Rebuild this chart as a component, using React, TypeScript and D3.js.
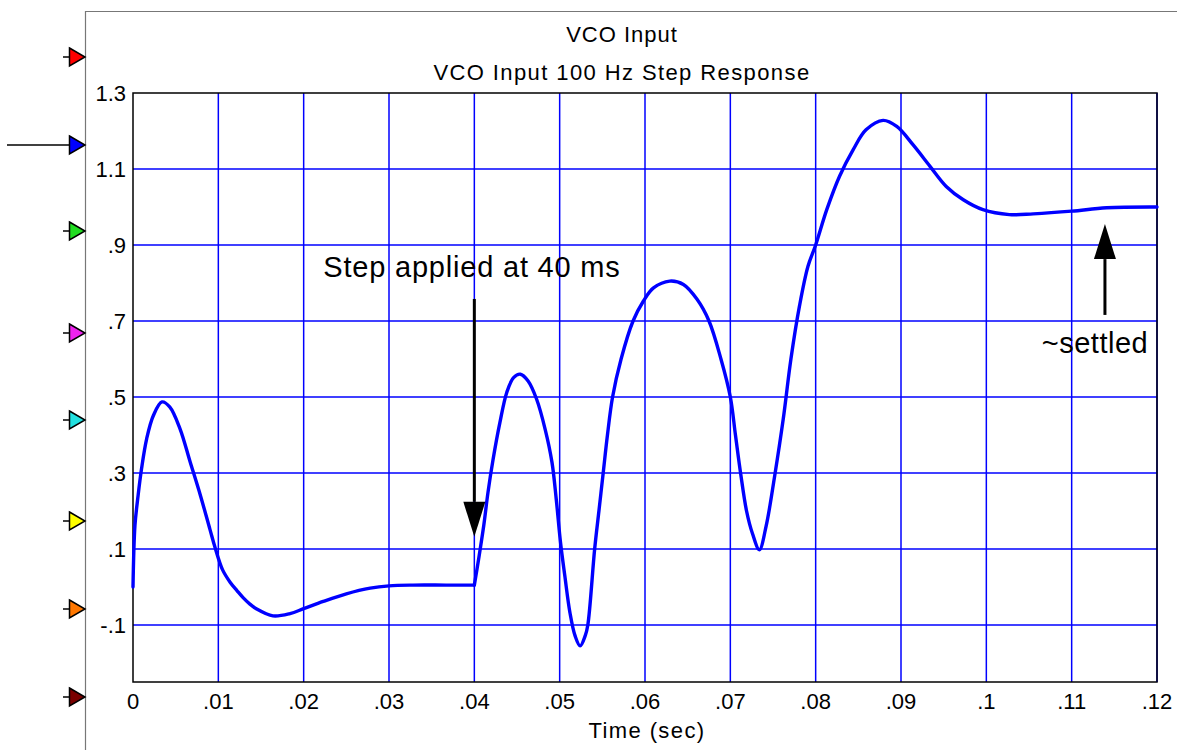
import React, { Component } from "react";
import * as d3 from "d3";

// time (sec) and VCO input
const timeSec = [
  0, 0.00023, 0.0006, 0.001, 0.0016, 0.0024, 0.0034, 0.0043, 0.0055, 0.0067, 0.0079, 0.009,
  0.0096, 0.0105, 0.0114, 0.0122, 0.0129, 0.0137, 0.0145, 0.0164, 0.0184, 0.02, 0.0223,
  0.025, 0.0278, 0.03, 0.0328, 0.0367, 0.04,
  0.0405, 0.0411, 0.0416, 0.0422, 0.043, 0.0438, 0.0446, 0.0454, 0.0463,
  0.0473, 0.0483, 0.0491, 0.0496, 0.0501, 0.0506, 0.0512, 0.0518, 0.0524, 0.053, 0.0533,
  0.0541, 0.0546, 0.0551, 0.0556, 0.0562, 0.0572, 0.0586, 0.0598, 0.061, 0.0629, 0.0645,
  0.0661, 0.0675, 0.0689, 0.07, 0.0706, 0.0712, 0.0719, 0.0726, 0.0734, 0.0742, 0.0752,
  0.0762, 0.0771, 0.0781, 0.0791, 0.08, 0.0813, 0.0828, 0.0844, 0.0859, 0.0879, 0.0895,
  0.0914, 0.0934, 0.0953, 0.0973, 0.0996, 0.1027, 0.1055, 0.11, 0.1141, 0.12,
];
const vcoInput = [
  0, 0.162, 0.241, 0.311, 0.39, 0.452, 0.487, 0.474, 0.417, 0.329, 0.241, 0.153,
  0.105, 0.045, 0.012, -0.01, -0.028, -0.045, -0.058, -0.076, -0.07, -0.057, -0.038,
  -0.018, -0.003, 0.003, 0.005, 0.005, 0.005,
  0.073, 0.161, 0.249, 0.336, 0.433, 0.512, 0.551, 0.56, 0.542,
  0.494, 0.415, 0.328, 0.231, 0.117, 0.03, -0.067, -0.128, -0.155, -0.128, -0.1,
  0.1, 0.2, 0.3, 0.4, 0.5, 0.6, 0.7, 0.752, 0.787, 0.805, 0.796,
  0.757, 0.7, 0.6, 0.5, 0.4, 0.3, 0.2, 0.14, 0.098, 0.161, 0.293,
  0.442, 0.6, 0.739, 0.844, 0.9, 0.993, 1.081, 1.151, 1.203, 1.228, 1.212,
  1.164, 1.107, 1.054, 1.019, 0.993, 0.98, 0.982, 0.989, 0.998, 1.0,
];
const stepTime = 0.04;

const xTicks = [0, 0.01, 0.02, 0.03, 0.04, 0.05, 0.06, 0.07, 0.08, 0.09, 0.1, 0.11, 0.12];
const xTickLabels = ["0", ".01", ".02", ".03", ".04", ".05", ".06", ".07", ".08", ".09", ".1", ".11", ".12"];
const yTicks = [1.3, 1.1, 0.9, 0.7, 0.5, 0.3, 0.1, -0.1];
const yTickLabels = ["1.3", "1.1", ".9", ".7", ".5", ".3", ".1", "-.1"];

// channel markers on the left rail
const markerColors = ["#ff0000", "#0000ff", "#22dd22", "#ee22ee", "#22e0e0", "#ffff00", "#ff7700", "#7a0000"];

const FONT = "'Liberation Sans', Arial, sans-serif";

class App extends Component {
  svgRef: React.RefObject<SVGSVGElement | null>;

  constructor(props: any) {
    super(props);
    this.svgRef = React.createRef();
  }

  componentDidMount() {
    this.drawChart();
  }

  componentDidUpdate() {
    this.drawChart();
  }

  drawChart() {
    d3.select(this.svgRef.current).selectAll("*").remove();

    const width = 1177;
    const height = 750;
    const margin = { top: 93, right: 20, bottom: 68, left: 133 };

    const svg = d3.select(this.svgRef.current)
      .attr("width", width)
      .attr("height", height);

    svg.append("rect").attr("width", width).attr("height", height).attr("fill", "#fff");

    const x = d3.scaleLinear().domain([0, 0.12]).range([margin.left, width - margin.right]);
    const y = d3.scaleLinear().domain([-0.25, 1.3]).range([height - margin.bottom, margin.top]);

    // outer frame
    svg.append("path")
      .attr("d", `M85.5,${height} L85.5,11.5 L${width},11.5`)
      .attr("fill", "none")
      .attr("stroke", "#777")
      .attr("stroke-width", 1.2);

    // markers
    const markerY = [57, 145, 231, 333, 420, 521, 609, 697];
    markerColors.forEach((c, i) => {
      const my = markerY[i];
      svg.append("line")
        .attr("x1", i === 1 ? 7 : 63).attr("x2", 70)
        .attr("y1", my).attr("y2", my)
        .attr("stroke", "#000").attr("stroke-width", 1.5);
      svg.append("path")
        .attr("d", `M69.5,${my - 9} L85,${my} L69.5,${my + 9} Z`)
        .attr("fill", c)
        .attr("stroke", "#000")
        .attr("stroke-width", 1.5);
    });

    // grid
    svg.append("g")
      .selectAll("line")
      .data(xTicks.slice(1, -1))
      .enter()
      .append("line")
      .attr("x1", d => x(d)).attr("x2", d => x(d))
      .attr("y1", y(1.3)).attr("y2", y(-0.25))
      .attr("stroke", "#0000ff").attr("stroke-width", 1.5);

    svg.append("g")
      .selectAll("line")
      .data(yTicks.slice(1))
      .enter()
      .append("line")
      .attr("x1", x(0)).attr("x2", x(0.12))
      .attr("y1", d => y(d)).attr("y2", d => y(d))
      .attr("stroke", "#0000ff").attr("stroke-width", 1.5);

    // plot frame
    svg.append("rect")
      .attr("x", x(0)).attr("y", y(1.3))
      .attr("width", x(0.12) - x(0)).attr("height", y(-0.25) - y(1.3))
      .attr("fill", "none")
      .attr("stroke", "#000").attr("stroke-width", 1.5);
    svg.append("line")
      .attr("x1", x(0.12)).attr("x2", x(0.12))
      .attr("y1", y(1.3)).attr("y2", y(-0.25))
      .attr("stroke", "#000044").attr("stroke-width", 1.5);

    // trace, drawn in two pieces so the corner at the step stays sharp
    const pts = timeSec.map((t, i) => [t, vcoInput[i]] as [number, number]);
    const before = pts.filter(d => d[0] <= stepTime);
    const after = pts.filter(d => d[0] >= stepTime);
    const line = d3.line<[number, number]>()
      .x(d => x(d[0]))
      .y(d => y(d[1]))
      .curve(d3.curveCatmullRom.alpha(0.5));
    [before, after].forEach(seg => {
      svg.append("path")
        .datum(seg)
        .attr("d", line)
        .attr("fill", "none")
        .attr("stroke", "#0000ff")
        .attr("stroke-width", 3.4)
        .attr("stroke-linejoin", "round")
        .attr("stroke-linecap", "round");
    });

    // tick labels
    svg.append("g")
      .selectAll("text")
      .data(yTicks)
      .enter()
      .append("text")
      .attr("x", x(0) - 7)
      .attr("y", d => y(d))
      .attr("dy", "0.36em")
      .attr("text-anchor", "end")
      .style("font-family", FONT)
      .style("font-size", "22px")
      .text((d, i) => yTickLabels[i]);

    svg.append("g")
      .selectAll("text")
      .data(xTicks)
      .enter()
      .append("text")
      .attr("x", d => x(d))
      .attr("y", y(-0.25) + 27)
      .attr("text-anchor", "middle")
      .style("font-family", FONT)
      .style("font-size", "22px")
      .text((d, i) => xTickLabels[i]);

    svg.append("text")
      .attr("x", 647)
      .attr("y", 738)
      .attr("text-anchor", "middle")
      .style("font-family", FONT)
      .style("font-size", "22px")
      .style("letter-spacing", "1.4px")
      .text("Time (sec)");

    // titles
    svg.append("text")
      .attr("x", 622)
      .attr("y", 42)
      .attr("text-anchor", "middle")
      .style("font-family", FONT)
      .style("font-size", "22px")
      .style("letter-spacing", "1px")
      .text("VCO Input");

    svg.append("text")
      .attr("x", 622)
      .attr("y", 80)
      .attr("text-anchor", "middle")
      .style("font-family", FONT)
      .style("font-size", "22px")
      .style("letter-spacing", "1.4px")
      .text("VCO Input 100 Hz Step Response");

    // annotations
    const arrow = (xv: number, yFrom: number, yTip: number) => {
      const ax = x(xv);
      const dir = y(yTip) > y(yFrom) ? 1 : -1;
      const tip = y(yTip);
      const base = tip - dir * 35;
      svg.append("line")
        .attr("x1", ax).attr("x2", ax)
        .attr("y1", y(yFrom)).attr("y2", base)
        .attr("stroke", "#000").attr("stroke-width", 3);
      svg.append("path")
        .attr("d", `M${ax - 11},${base} L${ax + 11},${base} L${ax},${tip} Z`)
        .attr("fill", "#000");
    };
    arrow(0.04, 0.758, 0.132);
    arrow(0.1139, 0.716, 0.955);

    svg.append("text")
      .attr("x", x(0.0223))
      .attr("y", y(0.816))
      .style("font-family", FONT)
      .style("font-size", "29px")
      .style("letter-spacing", "0.8px")
      .text("Step applied at 40 ms");

    svg.append("text")
      .attr("x", x(0.1065))
      .attr("y", y(0.616))
      .style("font-family", FONT)
      .style("font-size", "29px")
      .style("letter-spacing", "0.5px")
      .text("~settled");
  }

  render() {
    return (
      <svg
        ref={this.svgRef}
        style={{ position: "absolute", left: 0, top: 0, display: "block" }}
      ></svg>
    );
  }
}

export default App;
